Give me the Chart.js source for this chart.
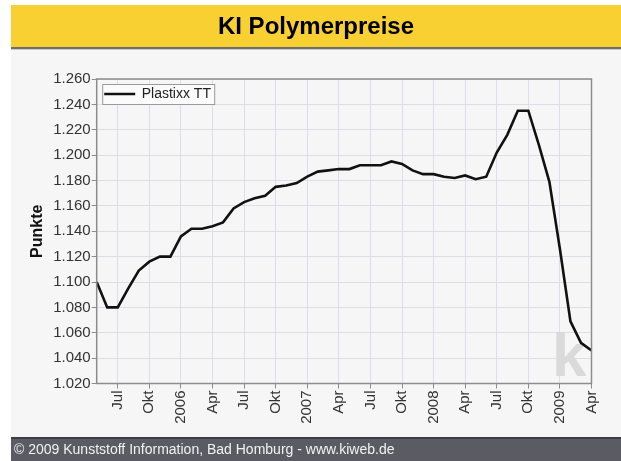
<!DOCTYPE html>
<html>
<head>
<meta charset="utf-8">
<title>KI Polymerpreise</title>
<script src="https://cdn.jsdelivr.net/npm/chart.js@4.4.1/dist/chart.umd.min.js"></script>
<style>
  html, body { margin: 0; padding: 0; background: #fff; }
  #wrap { width: 621px; height: 461px; position: relative; }
</style>
</head>
<body>
<div id="wrap"><canvas id="myChart"></canvas></div>
<script>
// monthly values, Mai 2005 - Apr 2009
var months = [
    'Mai 05', 'Jun 05', 'Jul 05', 'Aug 05', 'Sep 05', 'Okt 05', 'Nov 05', 'Dez 05',
    'Jan 06', 'Feb 06', 'Mär 06', 'Apr 06', 'Mai 06', 'Jun 06', 'Jul 06', 'Aug 06', 'Sep 06', 'Okt 06', 'Nov 06', 'Dez 06',
    'Jan 07', 'Feb 07', 'Mär 07', 'Apr 07', 'Mai 07', 'Jun 07', 'Jul 07', 'Aug 07', 'Sep 07', 'Okt 07', 'Nov 07', 'Dez 07',
    'Jan 08', 'Feb 08', 'Mär 08', 'Apr 08', 'Mai 08', 'Jun 08', 'Jul 08', 'Aug 08', 'Sep 08', 'Okt 08', 'Nov 08', 'Dez 08',
    'Jan 09', 'Feb 09', 'Mär 09', 'Apr 09'
];

var tickLabels = [
    '', '', 'Jul', '', '', 'Okt', '', '',
    '2006', '', '', 'Apr', '', '', 'Jul', '', '', 'Okt', '', '',
    '2007', '', '', 'Apr', '', '', 'Jul', '', '', 'Okt', '', '',
    '2008', '', '', 'Apr', '', '', 'Jul', '', '', 'Okt', '', '',
    '2009', '', '', 'Apr'
];

var plastixx = [
    1100, 1080, 1080, 1095, 1109, 1116, 1120, 1120,
    1136, 1142, 1142, 1144, 1147, 1158, 1163, 1166, 1168, 1175, 1176, 1178,
    1183, 1187, 1188, 1189, 1189, 1192, 1192, 1192, 1195, 1193, 1188, 1185,
    1185, 1183, 1182, 1184, 1181, 1183, 1202, 1216, 1235, 1235, 1208, 1179,
    1126, 1069, 1052, 1046
];

var yTicks = { min: 1020, max: 1260, step: 20 };

var FONT = '"Liberation Sans", Arial, sans-serif';

function formatPunkte(v) {
    var s = String(v % 1000);
    while (s.length < 3) s = '0' + s;
    return Math.floor(v / 1000) + '.' + s;
}

// background, header, footer, border, legend and watermark
var frame = {
    id: 'frame',
    beforeDraw: function(chart) {
        var c = chart.ctx;
        c.save();
        c.fillStyle = '#ffffff';
        c.fillRect(0, 0, chart.width, chart.height);
        c.fillStyle = '#f6f6f6';
        c.fillRect(11, 50, chart.width - 11, 388);
        // header
        c.fillStyle = '#f8d031';
        c.fillRect(11, 5, chart.width - 11, 42);
        c.fillStyle = '#6f6f6f';
        c.fillRect(11, 47, chart.width - 11, 2);
        c.fillStyle = '#c8c8c8';
        c.fillRect(11, 49, chart.width - 11, 1);
        c.fillStyle = '#000';
        c.font = 'bold 24px ' + FONT;
        c.textAlign = 'center';
        c.textBaseline = 'middle';
        c.fillText('KI Polymerpreise', 316, 27);
        // footer
        c.fillStyle = '#3e3e42';
        c.fillRect(11, 437, chart.width - 11, 2);
        c.fillStyle = '#5b5b63';
        c.fillRect(11, 439, chart.width - 11, 22);
        c.fillStyle = '#f2f2f2';
        c.font = '14px ' + FONT;
        c.textAlign = 'left';
        c.fillText('\u00a9 2009 Kunststoff Information, Bad Homburg - www.kiweb.de', 14, 450);
        c.restore();
    },
    beforeDatasetsDraw: function(chart) {
        var c = chart.ctx;
        c.save();
        c.fillStyle = '#dadada';
        c.font = 'bold 62px ' + FONT;
        c.textAlign = 'left';
        c.textBaseline = 'alphabetic';
        c.fillText('k', 552, 376);
        c.restore();
    },
    afterDatasetsDraw: function(chart) {
        var a = chart.chartArea;
        var c = chart.ctx;
        var ds = chart.data.datasets[0];
        c.save();
        c.strokeStyle = '#8c8c8c';
        c.lineWidth = 1.5;
        c.strokeRect(a.left, a.top, a.right - a.left, a.bottom - a.top);
        // legend box
        var lx = a.left + 5.5, ly = a.top + 5;
        c.fillStyle = '#fbfbfb';
        c.fillRect(lx, ly, 112, 20);
        c.strokeStyle = '#9a9a9a';
        c.lineWidth = 1;
        c.strokeRect(lx + 0.5, ly + 0.5, 112, 20);
        c.strokeStyle = ds.borderColor;
        c.lineWidth = 2.5;
        c.beginPath();
        c.moveTo(lx + 2, ly + 10);
        c.lineTo(lx + 33, ly + 10);
        c.stroke();
        c.fillStyle = '#222';
        c.font = '14px ' + FONT;
        c.textAlign = 'left';
        c.textBaseline = 'middle';
        c.fillText(ds.label, lx + 39.5, ly + 10.5);
        c.restore();
    }
};

var ctx = document.getElementById('myChart').getContext('2d');

var myChart = new Chart(ctx, {
    type: 'line',
    data: {
        labels: months,
        datasets: [{
            label: 'Plastixx TT',
            data: plastixx,
            borderColor: '#111111',
            borderWidth: 2.6,
            pointRadius: 0,
            tension: 0,
            fill: false
        }]
    },
    options: {
        responsive: true,
        maintainAspectRatio: false,
        animation: false,
        layout: {
            padding: { top: 79, right: 29.5, bottom: 0, left: 0 }
        },
        plugins: {
            legend: { display: false },
            tooltip: { enabled: false }
        },
        scales: {
            x: {
                offset: false,
                afterFit: function(scale) { scale.height = 77.5; },
                border: { display: false },
                grid: {
                    color: function(c) { return tickLabels[c.index] ? '#dedeeb' : 'rgba(0,0,0,0)'; },
                    tickColor: function(c) { return tickLabels[c.index] ? '#8c8c8c' : 'rgba(0,0,0,0)'; },
                    tickLength: 5,
                    lineWidth: 1
                },
                ticks: {
                    autoSkip: false,
                    minRotation: 90,
                    maxRotation: 90,
                    padding: 2,
                    color: '#333',
                    font: { family: FONT, size: 15 },
                    callback: function(value, index) { return tickLabels[index]; }
                }
            },
            y: {
                min: yTicks.min,
                max: yTicks.max,
                afterFit: function(scale) { scale.width = 96.7; },
                border: { display: false },
                grid: {
                    color: '#dedeeb',
                    tickColor: '#8c8c8c',
                    tickLength: 5,
                    lineWidth: 1
                },
                title: {
                    display: true,
                    text: 'Punkte',
                    color: '#111',
                    font: { family: FONT, size: 16, weight: 'bold' },
                    padding: { top: 28, bottom: 0 }
                },
                ticks: {
                    stepSize: yTicks.step,
                    padding: 1,
                    color: '#333',
                    font: { family: FONT, size: 15 },
                    callback: function(value) { return formatPunkte(value); }
                }
            }
        }
    },
    plugins: [frame]
});
</script>
</body>
</html>
